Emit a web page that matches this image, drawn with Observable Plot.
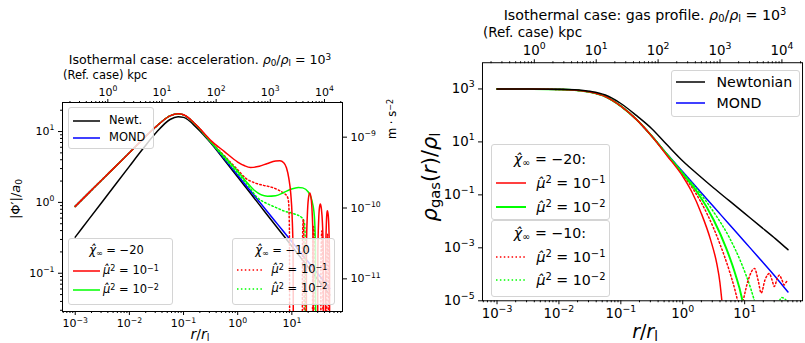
<!DOCTYPE html>
<html><head><meta charset="utf-8">
<script src="https://cdn.jsdelivr.net/npm/d3@7"></script>
<script src="https://cdn.jsdelivr.net/npm/@observablehq/plot@0.6"></script>
<style>
body{margin:0;background:#fff;font-family:"DejaVu Sans",sans-serif;color:#000;}
#wrap{position:relative;width:805px;height:343px;overflow:hidden;background:#fff;}
.abs{position:absolute;white-space:nowrap;line-height:1;}
.lg{position:absolute;border:1px solid #d4d4d4;border-radius:3px;background:rgba(255,255,255,0.8);box-sizing:border-box;}
sup{font-size:70%;vertical-align:0.45em;line-height:0;}
sub{font-size:70%;vertical-align:-0.25em;line-height:0;}
i{font-style:italic;}
</style></head><body>
<div id="wrap">
<div id="left" class="abs" style="left:0;top:0"></div>
<div id="right" class="abs" style="left:400px;top:0"></div>
</div>
<script>
// ---------- constants ----------
const A0 = 1.2e-10;      // m s^-2
const RL_KPC = 250;      // r_l in kpc (ref. case)

// ---------- tick values ----------
const xTicks = [1e-3, 1e-2, 1e-1, 1, 10];
const kpcTicks = [1, 10, 100, 1000, 10000];
const accTicks = [0.1, 1, 10];
const siTicks = [1e-11, 1e-10, 1e-9];
const rhoTicks = [1e3, 1e1, 1e-1, 1e-3, 1e-5];

// ---------- left panel: log10(r/r_l), log10(|Phi'|/a0) ----------
const accNewt = [[-3,-0.49],[-2.75,-0.24],[-2.5,0.01],[-2.25,0.26],[-2,0.509],[-1.75,0.756],[-1.5,0.989],[-1.25,1.17],[-1.1,1.208],[-1,1.2],[-0.75,1.047],[-0.5,0.84],[-0.25,0.601],[0,0.358],[0.25,0.114],[0.5,-0.131],[0.75,-0.376],[1,-0.62],[1.25,-0.865],[1.5,-1.11],[1.7,-1.305]];
const accMond = [[-3,-0.056],[-2.75,0.134],[-2.5,0.324],[-2.25,0.512],[-2,0.70],[-1.75,0.893],[-1.5,1.075],[-1.25,1.221],[-1.1,1.25],[-1,1.235],[-0.75,1.074],[-0.5,0.852],[-0.25,0.62],[0,0.384],[0.25,0.149],[0.5,-0.086],[0.75,-0.321],[1,-0.556],[1.25,-0.791],[1.5,-1.026],[1.7,-1.214]];
const accChi20Mu1 = [[-3,-0.056],[-2.75,0.134],[-2.5,0.324],[-2.25,0.512],[-2,0.70],[-1.75,0.893],[-1.5,1.075],[-1.25,1.221],[-1.1,1.25],[-1,1.236],[-0.75,1.08],[-0.5,0.875],[-0.25,0.72],[0,0.57],[0.12,0.52],[0.237,0.493],[0.4,0.51],[0.55,0.55],[0.7,0.583],[0.78,0.587],[0.85,0.56],[0.9,0.49],[0.944,0.34],[0.98,0.12],[1.005,-0.2],[1.022,-0.7],[1.036,-4],[1.26,-4],[1.27,-0.6],[1.285,-0.2],[1.305,0.05],[1.33,0.131],[1.355,0.06],[1.375,-0.15],[1.39,-0.5],[1.405,-4],[1.47,-4],[1.48,-0.7],[1.495,-0.25],[1.51,-0.07],[1.525,-0.024],[1.545,-0.09],[1.565,-0.3],[1.58,-0.7],[1.59,-4],[1.615,-4],[1.625,-0.7],[1.635,-0.35],[1.645,-0.17],[1.655,-0.117],[1.67,-0.17],[1.685,-0.4],[1.695,-0.8],[1.7,-4]];
const accChi20Mu2 = [[-3,-0.056],[-2.75,0.134],[-2.5,0.324],[-2.25,0.512],[-2,0.70],[-1.75,0.893],[-1.5,1.075],[-1.25,1.221],[-1.1,1.25],[-1,1.235],[-0.75,1.076],[-0.5,0.857],[-0.25,0.65],[0,0.44],[0.15,0.30],[0.3,0.175],[0.55,0.088],[0.7,0.095],[0.85,0.14],[0.98,0.185],[1.12,0.212],[1.2,0.205],[1.3,0.15],[1.387,-0.03],[1.42,-0.25],[1.435,-0.6],[1.445,-4],[1.7,-4]];
const accChi10Mu1 = [[-3,-0.056],[-2.75,0.134],[-2.5,0.324],[-2.25,0.512],[-2,0.70],[-1.75,0.893],[-1.5,1.075],[-1.25,1.221],[-1.1,1.25],[-1,1.236],[-0.75,1.078],[-0.5,0.862],[-0.25,0.66],[0,0.46],[0.145,0.342],[0.3,0.28],[0.45,0.245],[0.6,0.22],[0.75,0.175],[0.85,0.13],[0.914,0.085],[0.94,0.0],[0.955,-0.4],[0.965,-4],[1.19,-4],[1.196,-0.6],[1.21,-0.245],[1.224,-0.6],[1.234,-4],[1.376,-4],[1.385,-0.7],[1.405,-0.34],[1.425,-0.7],[1.437,-4],[1.53,-4],[1.538,-0.8],[1.555,-0.4],[1.572,-0.8],[1.58,-4],[1.64,-4],[1.647,-0.85],[1.66,-0.45],[1.673,-0.85],[1.68,-4],[1.7,-4]];
const accChi10Mu2 = [[-3,-0.056],[-2.75,0.134],[-2.5,0.324],[-2.25,0.512],[-2,0.70],[-1.75,0.893],[-1.5,1.075],[-1.25,1.221],[-1.1,1.25],[-1,1.235],[-0.75,1.075],[-0.5,0.855],[-0.25,0.63],[0,0.41],[0.2,0.23],[0.36,0.07],[0.55,-0.02],[0.7,-0.07],[0.85,-0.12],[1.036,-0.16],[1.19,-0.22],[1.23,-0.28],[1.245,-0.45],[1.258,-4],[1.7,-4]];

// ---------- right panel: log10(r/r_l), log10(rho_gas/rho_l) ----------
const rhoNewt = [[-3,3],[-2.5,3.0],[-2,2.99],[-1.75,2.97],[-1.5,2.91],[-1.25,2.77],[-1,2.45],[-0.75,2.0],[-0.5,1.5],[-0.25,0.88],[0,0.28],[0.25,-0.24],[0.5,-0.74],[0.75,-1.22],[1,-1.7],[1.25,-2.18],[1.5,-2.66],[1.7,-3.07]];
const rhoMond = [[-3,3],[-2.5,2.995],[-2,2.98],[-1.75,2.955],[-1.5,2.88],[-1.25,2.71],[-1,2.35],[-0.75,1.85],[-0.5,1.22],[-0.25,0.53],[0,-0.13],[0.25,-0.79],[0.5,-1.45],[0.75,-2.11],[1,-2.77],[1.25,-3.43],[1.5,-4.1],[1.7,-4.67]];
const rhoChi20Mu1 = [[-3,3],[-2.5,2.995],[-2,2.98],[-1.75,2.955],[-1.5,2.88],[-1.25,2.71],[-1,2.35],[-0.75,1.85],[-0.5,1.21],[-0.25,0.47],[0,-0.3],[0.15,-0.9],[0.3,-1.7],[0.45,-2.7],[0.55,-3.6],[0.6,-4.3],[0.63,-4.95],[0.66,-5.6],[0.7,-7]];
const rhoChi20Mu2 = [[-3,3],[-2.5,2.995],[-2,2.98],[-1.75,2.955],[-1.5,2.88],[-1.25,2.71],[-1,2.35],[-0.75,1.85],[-0.5,1.22],[-0.25,0.51],[0,-0.2],[0.25,-0.95],[0.5,-1.95],[0.7,-3.0],[0.85,-4.0],[0.95,-4.85],[1.0,-5.5],[1.05,-7]];
const rhoChi10Mu1 = [[-3,3],[-2.5,2.995],[-2,2.98],[-1.75,2.955],[-1.5,2.88],[-1.25,2.71],[-1,2.35],[-0.75,1.85],[-0.5,1.215],[-0.25,0.5],[0,-0.24],[0.2,-0.9],[0.4,-1.75],[0.6,-2.85],[0.75,-3.85],[0.85,-4.65],[0.9,-5.15],[0.93,-5.5],[0.976,-5.0],[1.06,-4.2],[1.16,-3.78],[1.22,-4.25],[1.267,-4.71],[1.33,-4.2],[1.40,-3.97],[1.44,-4.2],[1.48,-4.46],[1.52,-4.2],[1.56,-4.03],[1.6,-4.2],[1.64,-4.40],[1.67,-4.3],[1.7,-4.21]];
const rhoChi10Mu2 = [[-3,3],[-2.5,2.995],[-2,2.98],[-1.75,2.955],[-1.5,2.88],[-1.25,2.71],[-1,2.35],[-0.75,1.85],[-0.5,1.22],[-0.25,0.52],[0,-0.16],[0.25,-0.85],[0.5,-1.65],[0.75,-2.6],[0.95,-3.6],[1.1,-4.55],[1.17,-5.1],[1.25,-5.8],[1.45,-5.8],[1.53,-5.2],[1.6,-4.88],[1.66,-4.95],[1.7,-5.15]];

// ---------- helpers ----------
const P = a => a.map(([lr, lv]) => ({r: 10 ** lr, v: 10 ** lv}));
const fmt = d => "10^" + Math.round(Math.log10(d));
function minors(lo, hi) {
  const out = [];
  for (let k = -8; k <= 6; k++) for (let m = 2; m <= 9; m++) { const v = m * 10 ** k; if (v >= lo && v <= hi) out.push(v); }
  return out;
}
function supify(svg) {
  d3.select(svg).selectAll("text").each(function () {
    const m = /^10\^(-?\d+)$/.exec(this.textContent);
    if (!m) return;
    const el = d3.select(this);
    el.text(null);
    el.append("tspan").text("10");
    el.append("tspan").attr("dy", "-0.62em").attr("font-size", "0.7em").text(m[1].replace("-", "\u2212"));
  });
}
const LW = 1.5, DOT = "1.5,2.4";
const RED = "#ff0000", GRN = "#00ff00", BLU = "#0000ff", BLK = "#000000";
const ln = (data, stroke, dash, w = LW) => Plot.line(P(data), {x: "r", y: "v", stroke, strokeWidth: w, strokeDasharray: dash, curve: "monotone-x", clip: true});

// ---------- left plot ----------
const xDomL = [10 ** -3.235, 10 ** 1.935];
const yDomL = [10 ** -1.54, 10 ** 1.41];
const kpcPos = kpcTicks.map(k => k / RL_KPC);
const siPos = siTicks.map(v => v / A0);
const leftPlot = Plot.plot({
  width: 400, height: 343, marginLeft: 62, marginRight: 58, marginTop: 102, marginBottom: 32,
  style: {fontFamily: "DejaVu Sans", fontSize: "11px", background: "transparent", overflow: "visible"},
  x: {type: "log", domain: xDomL, axis: null},
  y: {type: "log", domain: yDomL, axis: null},
  marks: [
    ln(accNewt, BLK),
    ln(accMond, BLU),
    ln(accChi10Mu2, GRN, DOT),
    ln(accChi10Mu1, RED, DOT),
    ln(accChi20Mu2, GRN),
    ln(accChi20Mu1, RED),
    Plot.frame({stroke: "#000", strokeWidth: 1}),
    Plot.axisX(xTicks, {anchor: "bottom", tickSize: 4, tickPadding: 4, tickFormat: fmt, label: null}),
    Plot.axisX(minors(...xDomL), {anchor: "bottom", tickSize: 2, text: null, label: null}),
    Plot.axisX(kpcPos, {anchor: "top", tickSize: 4, text: null, label: null}),
    Plot.text(kpcPos, {x: d => d, text: d => fmt(d * RL_KPC), frameAnchor: "top", lineAnchor: "bottom", dy: -7}),
    Plot.axisX(minors(xDomL[0] * RL_KPC, xDomL[1] * RL_KPC).map(k => k / RL_KPC), {anchor: "top", tickSize: 2, text: null, label: null}),
    Plot.axisY(accTicks, {anchor: "left", tickSize: 4, tickPadding: 4, tickFormat: fmt, label: null}),
    Plot.axisY(minors(...yDomL), {anchor: "left", tickSize: 2, text: null, label: null}),
    Plot.axisY(siPos, {anchor: "right", tickSize: 4, text: null, label: null}),
    Plot.text(siPos, {y: d => d, text: d => fmt(d * A0), frameAnchor: "right", textAnchor: "start", dx: 8}),
    Plot.axisY(minors(yDomL[0] * A0, yDomL[1] * A0).map(v => v / A0), {anchor: "right", tickSize: 2, text: null, label: null})
  ]
});
supify(leftPlot);
document.getElementById("left").appendChild(leftPlot);

// ---------- right plot ----------
const xDomR = [10 ** -3.235, 10 ** 1.935];
const yDomR = [1e-5, 10 ** 3.99];
const rightPlot = Plot.plot({
  width: 410, height: 343, marginLeft: 83, marginRight: 3, marginTop: 63, marginBottom: 39,
  style: {fontFamily: "DejaVu Sans", fontSize: "13.5px", background: "transparent", overflow: "visible"},
  x: {type: "log", domain: xDomR, axis: null},
  y: {type: "log", domain: yDomR, axis: null},
  marks: [
    ln(rhoMond, BLU),
    ln(rhoChi10Mu2, GRN, DOT),
    ln(rhoChi10Mu1, RED, DOT),
    ln(rhoChi20Mu2, GRN, undefined, 2),
    ln(rhoChi20Mu1, RED),
    ln(rhoNewt, BLK),
    Plot.frame({stroke: "#000", strokeWidth: 1}),
    Plot.axisX(xTicks, {anchor: "bottom", tickSize: 4, tickPadding: 4, tickFormat: fmt, label: null}),
    Plot.axisX(minors(...xDomR), {anchor: "bottom", tickSize: 2, text: null, label: null}),
    Plot.axisX(kpcPos, {anchor: "top", tickSize: 4, text: null, label: null}),
    Plot.text(kpcPos, {x: d => d, text: d => fmt(d * RL_KPC), frameAnchor: "top", lineAnchor: "bottom", dy: -8}),
    Plot.axisX(minors(xDomR[0] * RL_KPC, xDomR[1] * RL_KPC).map(k => k / RL_KPC), {anchor: "top", tickSize: 2, text: null, label: null}),
    Plot.axisY(rhoTicks, {anchor: "left", tickSize: 4, tickPadding: 4, tickFormat: fmt, label: null})
  ]
});
supify(rightPlot);
document.getElementById("right").appendChild(rightPlot);

// ---------- overlays: titles, axis labels, legends ----------
const wrap = document.getElementById("wrap");
function label(html, x, y, size, mode) {
  const d = document.createElement("div");
  d.className = "abs"; d.innerHTML = html;
  d.style.left = x + "px"; d.style.top = y + "px"; d.style.fontSize = size + "px";
  d.style.transform = mode === "middle" ? "translate(-50%,-50%)" : mode === "rot" ? "translate(-50%,-50%) rotate(-90deg)" : "translate(0,-50%)";
  wrap.appendChild(d);
}
function box(x, y, w, h) {
  const d = document.createElement("div"); d.className = "lg";
  Object.assign(d.style, {left: x + "px", top: y + "px", width: w + "px", height: h + "px"});
  wrap.appendChild(d);
}
function sample(x0, x1, y, color, dash, w = LW) {
  const ns = "http://www.w3.org/2000/svg";
  const s = document.createElementNS(ns, "svg");
  s.setAttribute("width", x1 - x0 + 2); s.setAttribute("height", 6);
  Object.assign(s.style, {position: "absolute", left: (x0 - 1) + "px", top: (y - 3) + "px"});
  const l = document.createElementNS(ns, "line");
  l.setAttribute("x1", 1); l.setAttribute("x2", x1 - x0 + 1); l.setAttribute("y1", 3); l.setAttribute("y2", 3);
  l.setAttribute("stroke", color); l.setAttribute("stroke-width", w);
  if (dash) l.setAttribute("stroke-dasharray", dash);
  s.appendChild(l); wrap.appendChild(s);
}
const rho0 = "<i>ρ</i><sub>0</sub>/<i>ρ</i><sub>l</sub> = 10<sup>3</sup>";
const chi = v => "<i>χ̂</i><sub>∞</sub> = −" + v;
const mu = e => "<i>μ̂</i><sup>2</sup> = 10<sup>−" + e + "</sup>";

// left panel texts
label("Isothermal case: acceleration. " + rho0, 200, 60, 12.6, "middle");
label("(Ref. case) kpc", 63, 76, 11.5);
label("<i>r</i>/<i>r</i><sub>l</sub>", 200, 334, 14, "middle");
label("|Φ′|/<i>a</i><sub>0</sub>", 15, 199, 13, "rot");
label("m · s<sup>−2</sup>", 393, 119, 11.5, "rot");
// right panel texts
label("Isothermal case: gas profile. " + rho0, 645, 15, 14.2, "middle");
label("(Ref. case) kpc", 483, 33, 13.5);
label("<i>r</i>/<i>r</i><sub>l</sub>", 645, 331, 19, "middle");
label("<i>ρ</i><sub>gas</sub>(<i>r</i>)/<i>ρ</i><sub>l</sub>", 430, 177, 21, "rot");

// left legends
box(68, 107, 86, 42);
sample(73, 100, 120.7, BLK); label("Newt.", 109, 120.7, 11.5);
sample(73, 100, 137.7, BLU); label("MOND", 109, 137.7, 11.5);
box(68, 238, 105, 67);
label(chi(20), 116.5, 250.7, 11.5, "middle");
sample(73, 100, 271, RED); label(mu(1), 103, 271, 11.5);
sample(73, 100, 290, GRN); label(mu(2), 103, 290, 11.5);
box(232, 238, 103, 67);
label(chi(10), 282.5, 250.7, 11.5, "middle");
sample(237, 262, 270, RED, DOT); label(mu(1), 271.5, 270, 11.5);
sample(237, 262, 289.3, GRN, DOT); label(mu(2), 271.5, 289.3, 11.5);

// right legends
box(671, 70, 129, 47);
sample(676, 705, 81.7, BLK); label("Newtonian", 716.5, 81.7, 14.2);
sample(676, 705, 103.3, BLU); label("MOND", 716.5, 103.3, 14.2);
box(491, 144, 119, 76);
label(chi(20) + ":", 550, 159.3, 14.2, "middle");
sample(496, 526, 182.7, RED); label(mu(1), 536.5, 182.7, 14.2);
sample(496, 526, 206.7, GRN, undefined, 2); label(mu(2), 536.5, 206.7, 14.2);
box(491, 220, 119, 77);
label(chi(10) + ":", 550, 233.3, 14.2, "middle");
sample(496, 526, 256.7, RED, DOT); label(mu(1), 536.5, 256.7, 14.2);
sample(496, 526, 280, GRN, DOT); label(mu(2), 536.5, 280, 14.2);
</script>
</body></html>
